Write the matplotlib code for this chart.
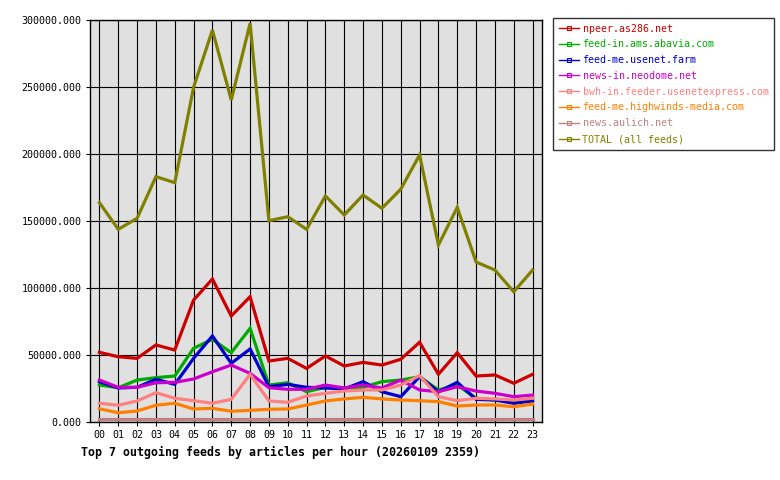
import matplotlib
matplotlib.use("Agg")
import matplotlib.pyplot as plt
from matplotlib.lines import Line2D

hours = ["%02d" % h for h in range(24)]

npeer = [52000, 48700, 47500, 57500, 53700, 91000, 106700, 79100, 93500, 45500, 47500, 40000,
         49300, 41800, 44500, 42500, 46800, 59500, 35600, 51700, 34300, 35100, 28900, 35600]
abavia = [27600, 25600, 31300, 33100, 34300, 55000, 61700, 51700, 69900, 27600, 29300, 22600,
          25900, 25400, 25900, 30100, 31300, 33800, 23900, 27600, 17700, 16400, 15200, 17700]
usenet_farm = [30100, 25400, 25900, 31900, 28100, 47500, 64200, 43800, 54500, 26300, 28100, 25900,
               25400, 24600, 30100, 22600, 18900, 33800, 22600, 29600, 16900, 16400, 14000, 15700]
neodome = [31300, 25900, 25900, 29300, 29600, 32100, 37500, 42500, 36300, 25600, 24400, 24400,
           27600, 25400, 27600, 25400, 31300, 23900, 22600, 26300, 23100, 21400, 18900, 20100]
usenetexpress = [14000, 12500, 15700, 21900, 17700, 15900, 14000, 16900, 35600, 15700, 14700, 19400,
                 21400, 23100, 23900, 23900, 27600, 34600, 18900, 15900, 17700, 17200, 16400, 17700]
highwinds = [9900, 6900, 8200, 12500, 14000, 9700, 10200, 8000, 8700, 9500, 9700, 12700,
             15700, 17200, 18400, 17200, 16400, 15900, 15200, 11900, 12700, 12700, 11400, 13400]
aulich = [2000] * 24
total = [163700, 143800, 152000, 183100, 178600, 249800, 292500, 240300, 297500, 150200, 153200, 143800,
         168700, 154500, 169400, 159500, 173700, 199300, 132100, 160200, 119400, 113400, 97200, 113400]

names = ["npeer.as286.net", "feed-in.ams.abavia.com", "feed-me.usenet.farm", "news-in.neodome.net",
         "bwh-in.feeder.usenetexpress.com", "feed-me.highwinds-media.com", "news.aulich.net",
         "TOTAL (all feeds)"]
series = [npeer, abavia, usenet_farm, neodome, usenetexpress, highwinds, aulich, total]
colors = ["#cc0000", "#00aa00", "#0000cc", "#cc00cc", "#ff8080", "#ff8000", "#c08080", "#808000"]

plt.rcParams["font.family"] = ["DejaVu Sans Mono"]

fig = plt.figure(figsize=(7.8, 4.8), dpi=100)
ax = fig.add_axes([90 / 780, 58 / 480, 452 / 780, 402 / 480])
ax.set_facecolor("#e0e0e0")

x = list(range(len(hours)))
for vals, col in zip(series, colors):
    ax.plot(x, vals, color=col, lw=2.3, solid_joinstyle="miter", zorder=3)

ax.set_xlim(-0.5, 23.5)
ax.set_ylim(0, 300000)
ax.set_xticks(x)
ax.set_xticklabels(hours)
ax.set_yticks(range(0, 300001, 50000))
ax.set_yticklabels(["%.3f" % v for v in range(0, 300001, 50000)])
ax.tick_params(labelsize=7.2, length=3, width=0.8, color="black", pad=3)
ax.grid(True, color="black", lw=0.8, zorder=1)
for s in ax.spines.values():
    s.set_linewidth(1.0)

ax.text(-0.02, -0.06, "Top 7 outgoing feeds by articles per hour (20260109 2359)",
        transform=ax.transAxes, fontsize=8.4, fontweight="bold", va="top", ha="left")

handles = [Line2D([0], [0], color=c, lw=1.0, marker="s", ms=2.5, mfc="none", mec=c, mew=0.8)
           for c in colors]
leg = fig.legend(handles, names, loc="upper left", bbox_to_anchor=(553 / 780, 1 - 18 / 480),
                 borderaxespad=0, fontsize=7.2, frameon=True, fancybox=False, edgecolor="black",
                 handlelength=2.0, handletextpad=0.4, labelspacing=0.58, borderpad=0.55,
                 numpoints=1)
leg.get_frame().set_linewidth(1.0)
for t, c in zip(leg.get_texts(), colors):
    t.set_color(c)

fig.savefig("out.png", dpi=100)
